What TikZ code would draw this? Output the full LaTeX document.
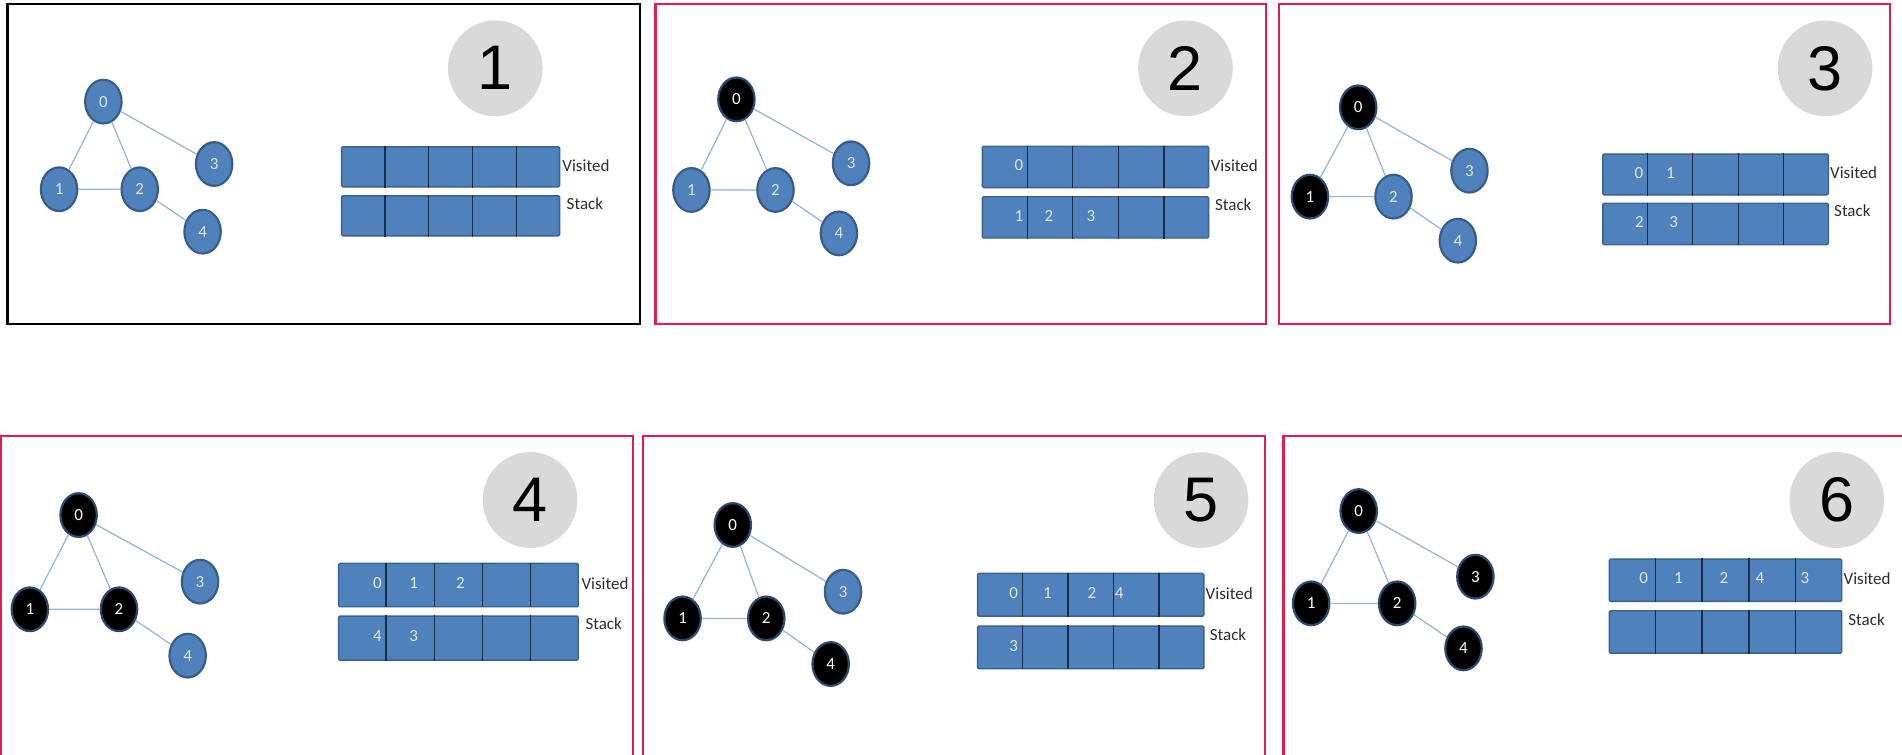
\documentclass[tikz,border=0pt]{standalone}
\usepackage{fontspec}
\setmainfont{Carlito}
\newfontfamily\arialfont{Liberation Sans}
\usetikzlibrary{shapes.geometric,calc}
\definecolor{nodeblue}{RGB}{79,129,189}
\definecolor{nodeedge}{RGB}{56,93,138}
\definecolor{darkedge}{RGB}{44,74,112}
\definecolor{edgeblue}{RGB}{149,179,215}
\definecolor{rowedge}{RGB}{58,97,144}
\definecolor{sepcol}{RGB}{26,45,70}
\definecolor{celltext}{RGB}{225,232,242}
\definecolor{nodetxt}{RGB}{220,230,242}
\definecolor{lblcol}{RGB}{45,45,45}
\definecolor{graybg}{RGB}{217,217,217}
\definecolor{framered}{RGB}{226,30,80}
\tikzset{
  vnode/.style={ellipse, draw=nodeedge, fill=nodeblue, line width=1.8pt,
    minimum width=30pt, minimum height=36pt, inner sep=0pt, text=nodetxt,
    font=\fontsize{14}{14}\selectfont},
  dnode/.style={vnode, fill=black, draw=darkedge, text=white},
  gedge/.style={draw=edgeblue, line width=1pt},
  rowbox/.style={draw=rowedge, fill=nodeblue, line width=1.2pt, inner sep=0pt,
    rounded corners=1pt},
  sepline/.style={draw=sepcol, line width=1.1pt},
  celltxt/.style={text=celltext, font=\fontsize{14}{14}\selectfont, inner sep=0pt},
  lbl/.style={text=lblcol, font=\fontsize{14}{14}\selectfont, anchor=west, inner sep=0pt},
  numcirc/.style={ellipse, fill=graybg, minimum width=78pt, minimum height=79pt,
    inner sep=0pt, font=\arialfont\fontsize{52}{52}\selectfont, text=black},
  redframe/.style={draw=framered, line width=2pt},
  blackframe/.style={draw=black, line width=2pt}
}
\newcommand\gedges[1]{%
  \draw[gedge] (#1n0)--(#1n1) (#1n0)--(#1n2) (#1n0)--(#1n3) (#1n1)--(#1n2) (#1n2)--(#1n4);}
\newcommand\cellrow[5]{%
  \node[rowbox, minimum width=#4pt, minimum height=#5pt, anchor=north west] (#1) at (#2,#3) {};
  \foreach \k in {1,2,3,4}
    \draw[sepline] ($(#1.north west)!\k/5!(#1.north east)$) -- ($(#1.south west)!\k/5!(#1.south east)$);}
\newcommand\celltext[4]{%
  \node[celltxt, yshift=1.5pt] (#1) at ($(#2.west)!#3!(#2.east)$) {#4};}
\begin{document}
\begin{tikzpicture}[x=1pt,y=-1pt]
\fill[white] (0,0) rectangle (1568,622);
\useasboundingbox (0,0) rectangle (1568,622);
% frames
\draw[blackframe] (6.1,3.3) rectangle (527.5,267);
\draw[redframe] (540.5,3.3) rectangle (1043.5,267);
\draw[redframe] (1054.5,3.3) rectangle (1558,267);
\draw[redframe] (0.8,359.4) rectangle (522,640);
\draw[redframe] (530,359.4) rectangle (1043,640);
\draw[redframe] (1058,359.4) rectangle (1590,640);

% ---------- panel 1
\node[vnode] (p1n0) at (85.2,83.8) {0};
\node[vnode] (p1n1) at (48.7,156) {1};
\node[vnode] (p1n2) at (115.2,156) {2};
\node[vnode] (p1n3) at (176.5,135.2) {3};
\node[vnode] (p1n4) at (167,191) {4};
\gedges{p1}
\node[numcirc] (p1num) at (408.3,56.3) {1};
\cellrow{p1v}{281.1}{120.4}{179.6}{33}
\cellrow{p1s}{281.1}{160.8}{179.6}{33}
\node[lbl] (p1vl) at (463.5,136.6) {Visited};
\node[lbl] (p1sl) at (467,168) {Stack};

% ---------- panel 2
\node[dnode] (p2n0) at (607.1,81.9) {0};
\node[vnode] (p2n1) at (570,156.6) {1};
\node[vnode] (p2n2) at (639.3,156.6) {2};
\node[vnode] (p2n3) at (701.6,134.6) {3};
\node[vnode] (p2n4) at (691.6,192.4) {4};
\gedges{p2}
\node[numcirc] (p2num) at (977.3,56.3) {2};
\cellrow{p2v}{809.3}{120}{186.5}{34}
\cellrow{p2s}{809.3}{161.6}{186.5}{34}
\celltext{p2v0}{p2v}{0.163}{0}
\celltext{p2s0}{p2s}{0.163}{1}
\celltext{p2s1}{p2s}{0.295}{2}
\celltext{p2s2}{p2s}{0.48}{3}
\node[lbl] (p2vl) at (998,136.6) {Visited};
\node[lbl] (p2sl) at (1001.5,169) {Stack};

% ---------- panel 3
\node[dnode] (p3n0) at (1119.7,88.5) {0};
\node[dnode] (p3n1) at (1079.9,162.1) {1};
\node[vnode] (p3n2) at (1148.8,162.1) {2};
\node[vnode] (p3n3) at (1211.4,140.7) {3};
\node[vnode] (p3n4) at (1201.8,198.4) {4};
\gedges{p3}
\node[numcirc] (p3num) at (1504.6,56.3) {3};
\cellrow{p3v}{1320.7}{126.4}{185.9}{33.6}
\cellrow{p3s}{1320.7}{167}{185.9}{34}
\celltext{p3v0}{p3v}{0.163}{0}
\celltext{p3v1}{p3v}{0.301}{1}
\celltext{p3s0}{p3s}{0.165}{2}
\celltext{p3s1}{p3s}{0.316}{3}
\node[lbl] (p3vl) at (1508.6,142.3) {Visited};
\node[lbl] (p3sl) at (1511.9,174) {Stack};

% ---------- panel 4
\node[dnode] (p4n0) at (64.8,424.6) {0};
\node[dnode] (p4n1) at (24.6,502.3) {1};
\node[dnode] (p4n2) at (98.1,502.3) {2};
\node[vnode] (p4n3) at (164.9,479.5) {3};
\node[vnode] (p4n4) at (154.7,540.5) {4};
\gedges{p4}
\node[numcirc] (p4num) at (437,412.2) {4};
\cellrow{p4v}{278.6}{463.9}{197.5}{35.7}
\cellrow{p4s}{278.6}{507.3}{197.5}{36.3}
\celltext{p4v0}{p4v}{0.164}{0}
\celltext{p4v1}{p4v}{0.314}{1}
\celltext{p4v2}{p4v}{0.508}{2}
\celltext{p4s0}{p4s}{0.164}{4}
\celltext{p4s1}{p4s}{0.314}{3}
\node[lbl] (p4vl) at (479.2,481.5) {Visited};
\node[lbl] (p4sl) at (482.5,514.4) {Stack};

% ---------- panel 5
\node[dnode] (p5n0) at (604.1,432.8) {0};
\node[dnode] (p5n1) at (562.7,509.8) {1};
\node[dnode] (p5n2) at (631.7,509.8) {2};
\node[vnode] (p5n3) at (695,487.8) {3};
\node[dnode] (p5n4) at (684.8,547.4) {4};
\gedges{p5}
\node[numcirc] (p5num) at (990.1,412.2) {5};
\cellrow{p5v}{805.3}{472.1}{186.5}{35.2}
\cellrow{p5s}{805.3}{515.5}{186.5}{35.2}
\celltext{p5v0}{p5v}{0.162}{0}
\celltext{p5v1}{p5v}{0.31}{1}
\celltext{p5v2}{p5v}{0.505}{2}
\celltext{p5v3}{p5v}{0.625}{4}
\celltext{p5s0}{p5s}{0.162}{3}
\node[lbl] (p5vl) at (993.8,489.2) {Visited};
\node[lbl] (p5sl) at (997.2,523.2) {Stack};

% ---------- panel 6
\node[dnode] (p6n0) at (1120.1,421.3) {0};
\node[dnode] (p6n1) at (1080.9,497.4) {1};
\node[dnode] (p6n2) at (1151.8,497.4) {2};
\node[dnode] (p6n3) at (1216.3,475.4) {3};
\node[dnode] (p6n4) at (1206.5,534.5) {4};
\gedges{p6}
\node[numcirc] (p6num) at (1514.2,412.2) {6};
\cellrow{p6v}{1326.1}{460.3}{191.6}{34.9}
\cellrow{p6s}{1326.1}{502.9}{191.6}{34.9}
\celltext{p6v0}{p6v}{0.150}{0}
\celltext{p6v1}{p6v}{0.299}{1}
\celltext{p6v2}{p6v}{0.493}{2}
\celltext{p6v3}{p6v}{0.647}{4}
\celltext{p6v4}{p6v}{0.84}{3}
\node[lbl] (p6vl) at (1519.7,477) {Visited};
\node[lbl] (p6sl) at (1523.6,510.6) {Stack};
\end{tikzpicture}
\end{document}
